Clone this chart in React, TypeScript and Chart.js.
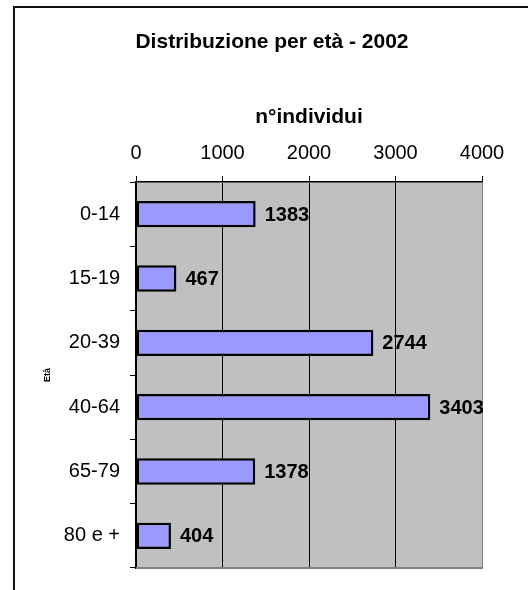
import React, { useEffect, useRef } from "react";
import { Chart, registerables } from "chart.js";

Chart.register(...registerables);

const categories = ["0-14", "15-19", "20-39", "40-64", "65-79", "80 e +"];
const values = [1383, 467, 2744, 3403, 1378, 404];
const xTicks = [0, 1000, 2000, 3000, 4000];
const titleText = "Distribuzione per età - 2002";
const xTitle = "n°individui";
const yTitle = "Età";

const FONT = "'Liberation Sans', Arial, sans-serif";

const PLOT_TOP = 182;
const PLOT_LEFT = 136;

const plotPlugin = {
  id: "plotDeco",
  beforeDraw(chart: any) {
    const { ctx, chartArea } = chart;
    ctx.save();
    ctx.fillStyle = "#C0C0C0";
    ctx.fillRect(chartArea.left, chartArea.top, chartArea.right - chartArea.left, chartArea.bottom - chartArea.top);
    ctx.restore();
  },
  afterDatasetsDraw(chart: any) {
    const { ctx, chartArea } = chart;
    ctx.save();
    ctx.strokeStyle = "#808080";
    ctx.lineWidth = 2;
    ctx.beginPath();
    ctx.moveTo(chartArea.left, chartArea.bottom);
    ctx.lineTo(chartArea.right + 1, chartArea.bottom);
    ctx.stroke();
    const meta = chart.getDatasetMeta(0);
    ctx.fillStyle = "#000";
    ctx.font = `bold 20px ${FONT}`;
    ctx.textAlign = "left";
    ctx.textBaseline = "middle";
    meta.data.forEach((el: any, i: number) => {
      ctx.fillText(String(values[i]), el.x + 9, el.y + 1);
    });
    // chart title
    ctx.font = `bold 21px ${FONT}`;
    ctx.textAlign = "center";
    ctx.fillText(titleText, 272, 42);
    ctx.restore();
  },
};

export default function App() {
  const ref = useRef<HTMLCanvasElement | null>(null);
  useEffect(() => {
    if (!ref.current) return;
    const chart = new Chart(ref.current, {
      type: "bar",
      data: {
        labels: categories,
        datasets: [
          {
            data: values,
            backgroundColor: "#9999FF",
            borderColor: "#000000",
            borderWidth: 2.5,
            borderSkipped: false,
            categoryPercentage: 1,
            barPercentage: 0.41,
          },
        ],
      },
      options: {
        indexAxis: "y",
        animation: false,
        responsive: false,
        devicePixelRatio: 1,
        layout: { padding: { left: 0, top: 0, right: 46, bottom: 20 } },
        plugins: {
          legend: { display: false },
          tooltip: { enabled: false },
          title: { display: false },
        },
        scales: {
          x: {
            position: "top",
            min: 0,
            max: 4000,
            afterBuildTicks(scale: any) {
              scale.ticks = xTicks.map((v) => ({ value: v }));
            },
            afterFit(scale: any) {
              scale.height = PLOT_TOP;
            },
            ticks: {
              color: "#000",
              font: { family: FONT, size: 20, lineHeight: 1.2 },
              padding: 11,
              maxRotation: 0,
              callback: (v: any) => String(v),
            },
            grid: {
              color: (c: any) => (c.index === xTicks.length - 1 ? "#808080" : "#000"),
              tickColor: "#000",
              tickLength: 6,
              lineWidth: 1,
            },
            border: { display: true, color: "#000", width: 1.5 },
            title: {
              display: true,
              text: xTitle,
              color: "#000",
              font: { family: FONT, size: 21, weight: "bold", lineHeight: 1.2 },
              padding: { top: 104.4, bottom: 0 },
            },
          },
          y: {
            afterFit(scale: any) {
              scale.width = PLOT_LEFT;
            },
            ticks: {
              color: "#000",
              font: { family: FONT, size: 20, lineHeight: 1.2 },
              padding: 10,
            },
            grid: {
              offset: true,
              drawOnChartArea: false,
              drawTicks: true,
              tickLength: 6,
              color: "#000",
              tickColor: "#000",
            },
            border: { display: true, color: "#000", width: 1.5 },
            title: {
              display: true,
              text: yTitle,
              color: "#000",
              font: { family: FONT, size: 9, weight: "bold", lineHeight: 1.2 },
              padding: { top: 42.6, bottom: 0 },
            },
          },
        },
      },
      plugins: [plotPlugin],
    });
    return () => chart.destroy();
  }, []);

  return (
    <div
      style={{
        position: "fixed",
        left: 0,
        top: 0,
        width: 528,
        height: 590,
        overflow: "hidden",
        background: "#fff",
      }}
    >
      <div
        style={{
          position: "absolute",
          left: 13,
          top: 6,
          width: 1000,
          height: 1000,
          borderLeft: "2px solid #111",
          borderTop: "2px solid #111",
        }}
      />
      <canvas
        ref={ref}
        width={528}
        height={590}
        style={{ position: "absolute", left: 0, top: 0, width: 528, height: 590 }}
      />
    </div>
  );
}
